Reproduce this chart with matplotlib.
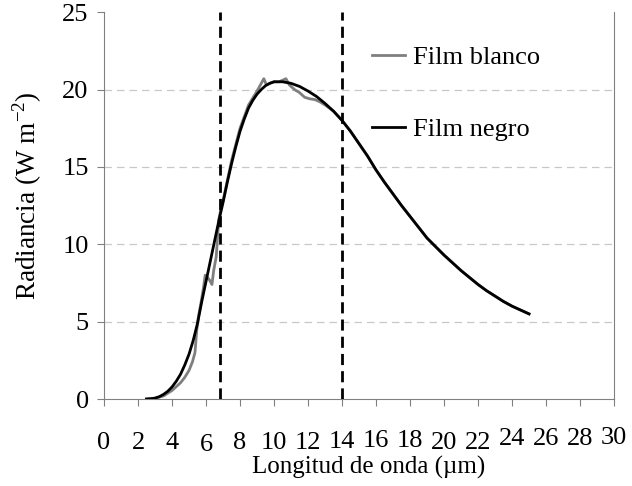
import numpy as np
import matplotlib.pyplot as plt
from matplotlib.transforms import ScaledTranslation

plt.rcParams['font.family'] = ['Liberation Serif', 'DejaVu Serif']

# shared tail of both curves (beyond ~13.5 um they coincide)
x_tail = [13.5, 14.0, 14.5, 15.0, 15.5, 16.0, 16.5, 17.0, 17.5, 18.0, 18.5, 19.0, 19.5,
          20.0, 20.5, 21.0, 21.5, 22.0, 22.5, 23.0, 23.5, 24.0, 24.5, 25.0]
y_tail = [18.6, 18.0, 17.3, 16.5, 15.7, 14.8, 14.0, 13.25, 12.5, 11.8, 11.1, 10.4, 9.85,
          9.3, 8.8, 8.3, 7.85, 7.4, 7.0, 6.65, 6.3, 6.0, 5.75, 5.5]

# Film negro (black curve), start
x_negro = [2.5, 2.75, 3.0, 3.25, 3.5, 3.75, 4.0, 4.25, 4.5, 4.75, 5.0, 5.25, 5.5, 5.75,
           6.0, 6.25, 6.5, 6.75, 7.0, 7.25, 7.5, 7.75, 8.0, 8.25, 8.5, 8.75, 9.0, 9.25,
           9.5, 9.75, 10.0, 10.5, 11.0, 11.5, 12.0, 12.5, 13.0]
y_negro = [0.0, 0.02, 0.06, 0.15, 0.3, 0.5, 0.78, 1.15, 1.6, 2.2, 2.9, 3.8, 4.9, 6.3,
           7.6, 8.9, 10.2, 11.5, 12.7, 14.0, 15.2, 16.3, 17.3, 18.1, 18.8, 19.3, 19.7, 20.0,
           20.25, 20.4, 20.5, 20.5, 20.4, 20.2, 19.9, 19.55, 19.1]

# Film blanco (grey curve), start
x_blanco = [2.5, 3.0, 3.5, 4.0, 4.25, 4.5, 4.75, 5.0, 5.2, 5.35, 5.45, 5.55, 5.7, 5.85,
            5.95, 6.05, 6.2, 6.35, 6.45, 6.6, 6.7, 6.75, 6.9, 7.0, 7.5, 8.0, 8.5, 9.0,
            9.25, 9.4, 9.55, 9.75, 10.0, 10.3, 10.5, 10.7, 10.9, 11.2, 11.5, 11.8, 12.1,
            12.4, 12.7, 13.0]
y_blanco = [0.0, 0.04, 0.2, 0.55, 0.8, 1.05, 1.4, 1.85, 2.4, 3.0, 4.4, 5.3, 6.2, 7.2,
            8.0, 7.9, 7.7, 7.4, 8.3, 9.2, 10.8, 11.6, 12.4, 12.8, 15.4, 17.5, 19.0, 19.9,
            20.4, 20.7, 20.3, 20.4, 20.5, 20.5, 20.6, 20.7, 20.3, 20.0, 19.8, 19.5, 19.4,
            19.35, 19.2, 19.0]

# band limits (dashed lines)
band = [6.8, 14.0]

xticks = list(range(0, 31, 2))
yticks = [0, 5, 10, 15, 20, 25]
# small vertical shifts of x tick labels, in points
label_dy = [0, 0, 0, -1, 0, 0, 0, 1, 2, 2, 0, 0, 3, 3, 3, 4]

fig = plt.figure(figsize=(6.32, 4.86), dpi=100)
ax = fig.add_axes([0.1646, 0.179, 0.807, 0.796])

for y in yticks[1:-1]:
    ax.axhline(y, color='#c8c8c8', lw=0.9, dashes=(6, 4), zorder=0)

ax.plot(x_blanco + x_tail, y_blanco + y_tail, color='#7f7f7f', lw=2.0,
        label='Film blanco', zorder=2)
ax.plot(x_negro + x_tail, y_negro + y_tail, color='black', lw=2.0,
        label='Film negro', zorder=3)

for xb in band:
    ax.axvline(xb, color='black', lw=2.0, dashes=(4, 2.2), zorder=4)

ax.set_xlim(0, 30)
ax.set_ylim(0, 25)
ax.set_xticks(xticks)
ax.set_yticks(yticks)
ax.tick_params(axis='x', direction='out', length=5, color='#808080', labelsize=19, pad=19)
ax.tick_params(axis='y', direction='out', length=5, color='#808080', labelsize=19, pad=6)

for spine in ['left', 'bottom', 'right']:
    ax.spines[spine].set_color('#808080')
ax.spines['top'].set_visible(False)

ax.set_xlabel('Longitud de onda (\u00b5m)', fontsize=18, labelpad=0, x=0.518)
ax.set_ylabel('Radiancia (W m$^{\\mathregular{-2}}$)', fontsize=19.5, labelpad=13, y=0.526)

for lab, dy in zip(ax.get_xticklabels(), label_dy):
    lab.set_transform(lab.get_transform() + ScaledTranslation(0, dy / 72, fig.dpi_scale_trans))

ax.legend(loc='upper left', bbox_to_anchor=(0.50, 0.948), frameon=False, fontsize=19,
          borderpad=0, handlelength=1.25, handletextpad=0.3, labelspacing=1.85)

plt.savefig('out.png', dpi=100)
